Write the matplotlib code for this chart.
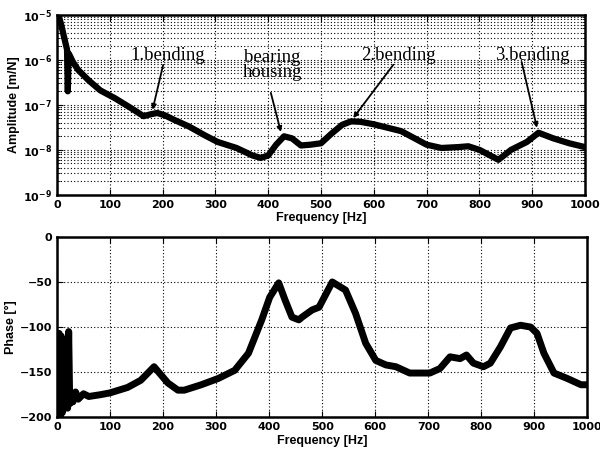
import numpy as np
import matplotlib
matplotlib.use("Agg")
import matplotlib.pyplot as plt

# amplitude of the frequency response
amp_freq = [3, 8, 14, 19, 20.5, 22, 25, 30, 40, 60, 82, 110, 140, 164, 178, 190,
            205, 221, 250, 280, 304, 340, 370, 386, 400, 415, 430, 445, 462, 480,
            500, 520, 540, 557, 575, 600, 652, 700, 728, 760, 779, 800, 836, 860,
            890, 912, 940, 970, 1000]
amp_vals = [1e-5, 6e-6, 3e-6, 1.7e-6, 2e-7, 1.4e-6, 1.2e-6, 9e-7, 6e-7, 3.5e-7,
            2.1e-7, 1.4e-7, 8.5e-8, 5.6e-8, 6.2e-8, 6.6e-8, 5.8e-8, 4.7e-8, 3.3e-8,
            2.1e-8, 1.5e-8, 1.1e-8, 7.5e-9, 6.6e-9, 7.5e-9, 1.3e-8, 2e-8, 1.8e-8,
            1.25e-8, 1.3e-8, 1.4e-8, 2.3e-8, 3.6e-8, 4.3e-8, 4.2e-8, 3.7e-8, 2.6e-8,
            1.3e-8, 1.1e-8, 1.15e-8, 1.2e-8, 1e-8, 6e-9, 1e-8, 1.5e-8, 2.4e-8,
            1.8e-8, 1.4e-8, 1.15e-8]

# phase
ph_freq = [2, 4, 6, 8, 10, 12, 14, 17, 20, 22, 24, 27, 30, 35, 40, 50, 60, 82, 100,
           133, 158, 183, 209, 228, 240, 272, 304, 335, 361, 386, 401, 418, 430, 443,
           456, 462, 481, 494, 519, 544, 563, 582, 601, 620, 639, 665, 703, 722, 741,
           760, 772, 785, 804, 817, 836, 855, 874, 893, 905, 918, 937, 962, 988, 1000]
ph_vals = [-200, -107, -200, -110, -195, -120, -190, -185, -190, -105, -185, -175,
           -183, -172, -180, -174, -177, -175, -173, -167, -159, -144, -162, -170,
           -170, -164, -157, -148, -129, -92, -67, -51, -70, -89, -92, -89, -81, -78,
           -50, -59, -85, -118, -137, -142, -144, -151, -151, -146, -133, -135, -131,
           -140, -144, -140, -122, -101, -98, -100, -107, -129, -151, -157, -164, -164]

notes = ["1.bending", "bearing\nhousing", "2.bending", "3.bending"]
note_pos = [(209, 1.0e-6), (408, 4.2e-7), (647, 1.0e-6), (900, 1.0e-6)]
arrow_tail = [(201, 7.7e-7), (405, 1.85e-7), (637, 7.8e-7), (880, 9e-7)]
arrow_tip = [(181, 7.8e-8), (424, 2.5e-8), (561, 5.1e-8), (909, 3.1e-8)]

xticks = np.arange(0, 1001, 100)
labfont = dict(fontsize=9, fontweight="bold", family="Liberation Sans")

fig = plt.figure(figsize=(6, 4.53), dpi=100)
ax1 = fig.add_axes([0.095, 0.570, 0.880, 0.397])
ax2 = fig.add_axes([0.095, 0.079, 0.884, 0.398])

ax1.semilogy(amp_freq, amp_vals, color="black", lw=4.5, solid_joinstyle="round")
ax1.set_xlim(0, 1000)
ax1.set_ylim(1e-9, 1e-5)
ax1.set_xticks(xticks)
ax1.grid(True, which="major", color="black", linestyle=(0, (1, 2)), lw=0.8)
ax1.grid(True, which="minor", axis="y", color="black", linestyle=(0, (1, 2)), lw=0.8)
ax1.set_xlabel("Frequency [Hz]", labelpad=2, **labfont)
ax1.set_ylabel("Amplitude [m/N]", labelpad=2, **labfont)

for txt, pos, tail, tip in zip(notes, note_pos, arrow_tail, arrow_tip):
    ax1.text(pos[0], pos[1], txt, ha="center", va="baseline", fontsize=13.5,
             family="Liberation Serif", linespacing=0.8)
    ax1.annotate("", xy=tip, xytext=tail,
                 arrowprops=dict(arrowstyle="-|>", color="black", lw=1.3,
                                 mutation_scale=7, shrinkA=0, shrinkB=0))

ax2.plot(ph_freq, ph_vals, color="black", lw=5, solid_joinstyle="round")
ax2.set_xlim(0, 1000)
ax2.set_ylim(-200, 0)
ax2.set_xticks(xticks)
ax2.set_yticks(np.arange(-200, 1, 50))
ax2.grid(True, color="black", linestyle=(0, (1, 2)), lw=0.8)
ax2.set_xlabel("Frequency [Hz]", labelpad=2, **labfont)
ax2.set_ylabel("Phase [°]", labelpad=2, **labfont)

for ax in (ax1, ax2):
    ax.tick_params(which="both", direction="in", top=True, right=True, length=4)
    ax.tick_params(which="minor", length=2)
    for lab in ax.get_xticklabels() + ax.get_yticklabels():
        lab.set_fontsize(8)
        lab.set_fontweight("bold")
    for sp in ax.spines.values():
        sp.set_linewidth(1.8)

fig.savefig("out.png", dpi=100)
